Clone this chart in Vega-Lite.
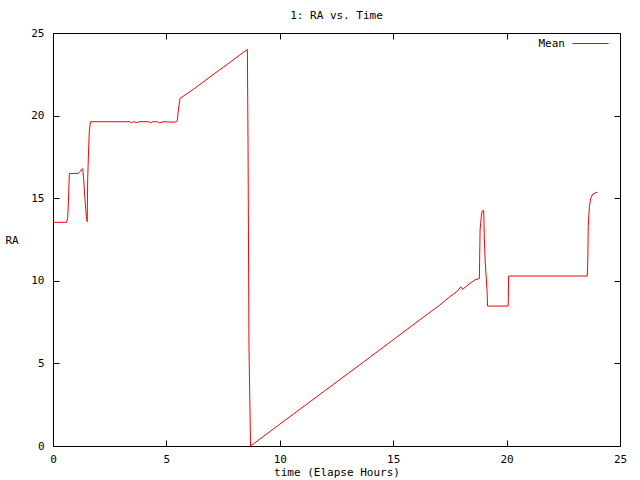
{
  "$schema": "https://vega.github.io/schema/vega-lite/v6.json",
  "width": 567,
  "height": 413,
  "autosize": "none",
  "padding": {"left": 53, "top": 33, "right": 20, "bottom": 34},
  "background": "white",
  "title": {"text": "1: RA vs. Time", "font": "DejaVu Sans Mono", "fontSize": 11, "fontWeight": "normal", "color": "black", "offset": 4},
  "config": {
    "view": {"stroke": "black", "strokeWidth": 1},
    "axis": {"grid": false, "domain": false, "offset": -6, "ticks": true, "tickSize": 6, "tickWidth": 1, "tickColor": "#000000", "tickOpacity": 1, "labelColor": "black", "titleColor": "black", "labelFont": "DejaVu Sans Mono", "titleFont": "DejaVu Sans Mono", "labelFontSize": 11, "titleFontSize": 11, "titleFontWeight": "normal", "labelFlush": false}
  },
  "data": {"values": [
    {"t": 0, "ra": 13.54}, {"t": 0.6, "ra": 13.54}, {"t": 0.65, "ra": 13.84}, {"t": 0.69, "ra": 15.19}, {"t": 0.72, "ra": 16.5},
    {"t": 1.12, "ra": 16.5}, {"t": 1.2, "ra": 16.62}, {"t": 1.26, "ra": 16.75}, {"t": 1.31, "ra": 16.78}, {"t": 1.35, "ra": 16.2},
    {"t": 1.4, "ra": 15.13}, {"t": 1.44, "ra": 14.39}, {"t": 1.47, "ra": 13.88}, {"t": 1.51, "ra": 13.58}, {"t": 1.53, "ra": 16.2},
    {"t": 1.57, "ra": 17.92}, {"t": 1.6, "ra": 19.03}, {"t": 1.65, "ra": 19.63}, {"t": 3.4, "ra": 19.63}, {"t": 3.45, "ra": 19.56},
    {"t": 3.55, "ra": 19.63}, {"t": 3.7, "ra": 19.58}, {"t": 3.8, "ra": 19.63}, {"t": 4.2, "ra": 19.63}, {"t": 4.3, "ra": 19.56},
    {"t": 4.4, "ra": 19.63}, {"t": 4.6, "ra": 19.63}, {"t": 4.7, "ra": 19.56}, {"t": 4.85, "ra": 19.63}, {"t": 5.3, "ra": 19.6},
    {"t": 5.45, "ra": 19.63}, {"t": 5.48, "ra": 19.73}, {"t": 5.53, "ra": 20.34}, {"t": 5.6, "ra": 21.04}, {"t": 6.2, "ra": 21.6},
    {"t": 7.0, "ra": 22.42}, {"t": 7.8, "ra": 23.22}, {"t": 8.57, "ra": 24.01}, {"t": 8.6, "ra": 18.1}, {"t": 8.64, "ra": 6.1},
    {"t": 8.71, "ra": 0}, {"t": 10, "ra": 1.32}, {"t": 12, "ra": 3.36}, {"t": 14, "ra": 5.4}, {"t": 16, "ra": 7.46},
    {"t": 17.06, "ra": 8.54}, {"t": 17.5, "ra": 9.04}, {"t": 17.8, "ra": 9.34}, {"t": 17.9, "ra": 9.5}, {"t": 17.98, "ra": 9.64},
    {"t": 18.06, "ra": 9.48}, {"t": 18.39, "ra": 9.85}, {"t": 18.6, "ra": 10.05}, {"t": 18.8, "ra": 10.15}, {"t": 18.83, "ra": 13.07},
    {"t": 18.89, "ra": 13.98}, {"t": 18.93, "ra": 14.24}, {"t": 18.99, "ra": 14.24}, {"t": 19.02, "ra": 12.47}, {"t": 19.06, "ra": 11.08},
    {"t": 19.14, "ra": 9.34}, {"t": 19.16, "ra": 8.47}, {"t": 20.07, "ra": 8.47}, {"t": 20.09, "ra": 10.29}, {"t": 23.56, "ra": 10.29},
    {"t": 23.58, "ra": 11.3}, {"t": 23.6, "ra": 13.28}, {"t": 23.65, "ra": 14.49}, {"t": 23.71, "ra": 14.99}, {"t": 23.8, "ra": 15.25},
    {"t": 24.0, "ra": 15.37}
  ]},
  "layer": [
    {
      "mark": {"type": "line", "strokeWidth": 1},
      "encoding": {
        "x": {"field": "t", "type": "quantitative", "scale": {"domain": [0, 25], "nice": false, "zero": false}, "axis": {"orient": "bottom", "values": [0, 5, 10, 15, 20, 25], "title": "time (Elapse Hours)", "labelPadding": 7, "titlePadding": 2}},
        "y": {"field": "ra", "type": "quantitative", "scale": {"domain": [0, 25], "nice": false}, "axis": {"orient": "left", "values": [0, 5, 10, 15, 20, 25], "title": "RA", "labelPadding": 9, "titleAngle": 0, "titleX": -54, "titleY": 207, "titleAlign": "left", "titleBaseline": "middle"}},
        "color": {"datum": "Mean", "scale": {"range": ["#ff0000"]}, "legend": {"title": null, "orient": "none", "legendX": 519, "legendY": -8, "symbolType": "stroke", "symbolSize": 1296, "symbolStrokeWidth": 1, "labelAlign": "right", "labelOffset": -44, "labelFont": "DejaVu Sans Mono", "labelFontSize": 11, "labelColor": "black"}}
      }
    },
    {
      "mark": {"type": "line", "strokeOpacity": 0},
      "encoding": {
        "x": {"field": "t", "type": "quantitative", "axis": {"orient": "top", "values": [0, 5, 10, 15, 20, 25], "labels": false, "title": null}},
        "y": {"field": "ra", "type": "quantitative", "axis": {"orient": "right", "values": [0, 5, 10, 15, 20, 25], "labels": false, "title": null}}
      }
    }
  ],
  "resolve": {"axis": {"x": "independent", "y": "independent"}}
}
